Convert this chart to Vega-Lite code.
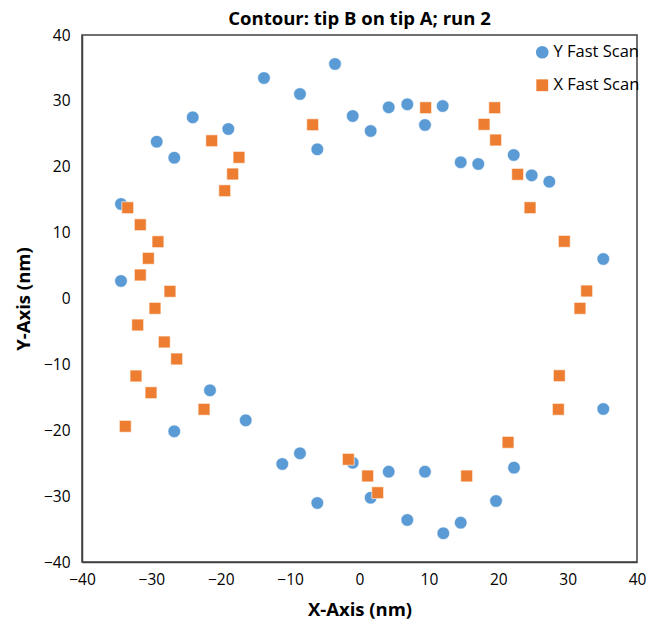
{
  "$schema": "https://vega.github.io/schema/vega-lite/v6.json",
  "width": 555,
  "height": 527,
  "autosize": {"type": "none"},
  "padding": {"left": 82, "top": 35, "right": 24, "bottom": 67},
  "background": "white",
  "title": {"text": "Contour: tip B on tip A; run 2", "font": "Open Sans", "fontSize": 18.5, "fontWeight": "bold", "color": "#000000", "anchor": "middle", "offset": 0},
  "config": {
    "view": {"stroke": "#404040", "strokeWidth": 1.5},
    "axis": {"labelFont": "Open Sans", "labelFontSize": 15.5, "labelColor": "#000000", "titleFont": "Open Sans", "titleFontSize": 18.5, "titleFontWeight": "bold", "titleColor": "#000000", "grid": false, "ticks": false, "labelFlush": false, "domainColor": "#404040", "domainWidth": 1.5}
  },
  "data": {"values": [
    {"series": "Y Fast Scan", "x": -3.53, "y": 35.6},
    {"series": "Y Fast Scan", "x": -13.77, "y": 33.47},
    {"series": "Y Fast Scan", "x": -8.58, "y": 31.04},
    {"series": "Y Fast Scan", "x": -24.04, "y": 27.5},
    {"series": "Y Fast Scan", "x": -18.91, "y": 25.73},
    {"series": "Y Fast Scan", "x": -29.23, "y": 23.8},
    {"series": "Y Fast Scan", "x": -26.7, "y": 21.37},
    {"series": "Y Fast Scan", "x": -6.08, "y": 22.65},
    {"series": "Y Fast Scan", "x": -0.98, "y": 27.7},
    {"series": "Y Fast Scan", "x": 1.61, "y": 25.43},
    {"series": "Y Fast Scan", "x": 4.21, "y": 29.02},
    {"series": "Y Fast Scan", "x": 6.89, "y": 29.48},
    {"series": "Y Fast Scan", "x": 11.99, "y": 29.22},
    {"series": "Y Fast Scan", "x": 9.44, "y": 26.34},
    {"series": "Y Fast Scan", "x": 14.59, "y": 20.68},
    {"series": "Y Fast Scan", "x": 17.12, "y": 20.42},
    {"series": "Y Fast Scan", "x": 22.23, "y": 21.78},
    {"series": "Y Fast Scan", "x": 24.82, "y": 18.7},
    {"series": "Y Fast Scan", "x": 27.36, "y": 17.73},
    {"series": "Y Fast Scan", "x": 35.14, "y": 6.0},
    {"series": "Y Fast Scan", "x": 35.14, "y": -16.77},
    {"series": "Y Fast Scan", "x": -34.38, "y": 14.35},
    {"series": "Y Fast Scan", "x": -34.38, "y": 2.66},
    {"series": "Y Fast Scan", "x": -21.55, "y": -13.94},
    {"series": "Y Fast Scan", "x": -16.4, "y": -18.49},
    {"series": "Y Fast Scan", "x": -26.7, "y": -20.16},
    {"series": "Y Fast Scan", "x": -11.13, "y": -25.12},
    {"series": "Y Fast Scan", "x": -8.58, "y": -23.5},
    {"series": "Y Fast Scan", "x": -6.08, "y": -31.04},
    {"series": "Y Fast Scan", "x": -0.98, "y": -24.93},
    {"series": "Y Fast Scan", "x": 1.61, "y": -30.24},
    {"series": "Y Fast Scan", "x": 4.21, "y": -26.29},
    {"series": "Y Fast Scan", "x": 9.44, "y": -26.29},
    {"series": "Y Fast Scan", "x": 6.89, "y": -33.62},
    {"series": "Y Fast Scan", "x": 12.08, "y": -35.64},
    {"series": "Y Fast Scan", "x": 14.59, "y": -34.03},
    {"series": "Y Fast Scan", "x": 19.68, "y": -30.74},
    {"series": "Y Fast Scan", "x": 22.27, "y": -25.68},
    {"series": "X Fast Scan", "x": -6.75, "y": 26.38},
    {"series": "X Fast Scan", "x": -21.3, "y": 23.95},
    {"series": "X Fast Scan", "x": -17.37, "y": 21.43},
    {"series": "X Fast Scan", "x": -18.28, "y": 18.9},
    {"series": "X Fast Scan", "x": -19.43, "y": 16.36},
    {"series": "X Fast Scan", "x": -33.41, "y": 13.78},
    {"series": "X Fast Scan", "x": -31.6, "y": 11.2},
    {"series": "X Fast Scan", "x": -29.05, "y": 8.62},
    {"series": "X Fast Scan", "x": -30.44, "y": 6.1},
    {"series": "X Fast Scan", "x": -31.6, "y": 3.57},
    {"series": "X Fast Scan", "x": -27.32, "y": 1.09},
    {"series": "X Fast Scan", "x": -29.48, "y": -1.49},
    {"series": "X Fast Scan", "x": -31.97, "y": -4.02},
    {"series": "X Fast Scan", "x": -28.14, "y": -6.6},
    {"series": "X Fast Scan", "x": -26.35, "y": -9.18},
    {"series": "X Fast Scan", "x": -32.22, "y": -11.76},
    {"series": "X Fast Scan", "x": -30.05, "y": -14.3},
    {"series": "X Fast Scan", "x": -22.41, "y": -16.82},
    {"series": "X Fast Scan", "x": -33.76, "y": -19.4},
    {"series": "X Fast Scan", "x": -1.61, "y": -24.41},
    {"series": "X Fast Scan", "x": 1.18, "y": -26.94},
    {"series": "X Fast Scan", "x": 2.62, "y": -29.48},
    {"series": "X Fast Scan", "x": 15.45, "y": -26.94},
    {"series": "X Fast Scan", "x": 21.41, "y": -21.83},
    {"series": "X Fast Scan", "x": 28.66, "y": -16.82},
    {"series": "X Fast Scan", "x": 28.8, "y": -11.72},
    {"series": "X Fast Scan", "x": 31.78, "y": -1.49},
    {"series": "X Fast Scan", "x": 32.75, "y": 1.14},
    {"series": "X Fast Scan", "x": 29.52, "y": 8.68},
    {"series": "X Fast Scan", "x": 24.58, "y": 13.78},
    {"series": "X Fast Scan", "x": 22.8, "y": 18.85},
    {"series": "X Fast Scan", "x": 19.63, "y": 24.06},
    {"series": "X Fast Scan", "x": 17.95, "y": 26.44},
    {"series": "X Fast Scan", "x": 19.49, "y": 28.96},
    {"series": "X Fast Scan", "x": 9.54, "y": 28.96}
  ]},
  "mark": {"type": "point", "filled": true, "opacity": 1, "stroke": "white", "strokeWidth": 0.6},
  "encoding": {
    "x": {"field": "x", "type": "quantitative", "scale": {"domain": [-40, 40], "nice": false, "zero": false}, "axis": {"values": [-40, -30, -20, -10, 0, 10, 20, 30, 40], "title": "X-Axis (nm)", "labelPadding": 10, "titlePadding": 13}},
    "y": {"field": "y", "type": "quantitative", "scale": {"domain": [-40, 40], "nice": false, "zero": false}, "axis": {"values": [-40, -30, -20, -10, 0, 10, 20, 30, 40], "title": "Y-Axis (nm)", "labelPadding": 12, "titlePadding": 10}},
    "color": {"field": "series", "type": "nominal", "scale": {"domain": ["Y Fast Scan", "X Fast Scan"], "range": ["#5B9BD5", "#ED7D31"]}, "legend": {"title": null, "orient": "none", "legendX": 452, "legendY": 9, "padding": 0, "labelFont": "Open Sans", "labelFontSize": 16.5, "labelColor": "#000000", "labelOffset": 3, "rowPadding": 16, "symbolSize": 150, "symbolStrokeWidth": 0}},
    "shape": {"field": "series", "type": "nominal", "scale": {"domain": ["Y Fast Scan", "X Fast Scan"], "range": ["circle", "square"]}},
    "size": {"field": "series", "type": "nominal", "scale": {"domain": ["Y Fast Scan", "X Fast Scan"], "range": [160, 140]}, "legend": null}
  }
}
